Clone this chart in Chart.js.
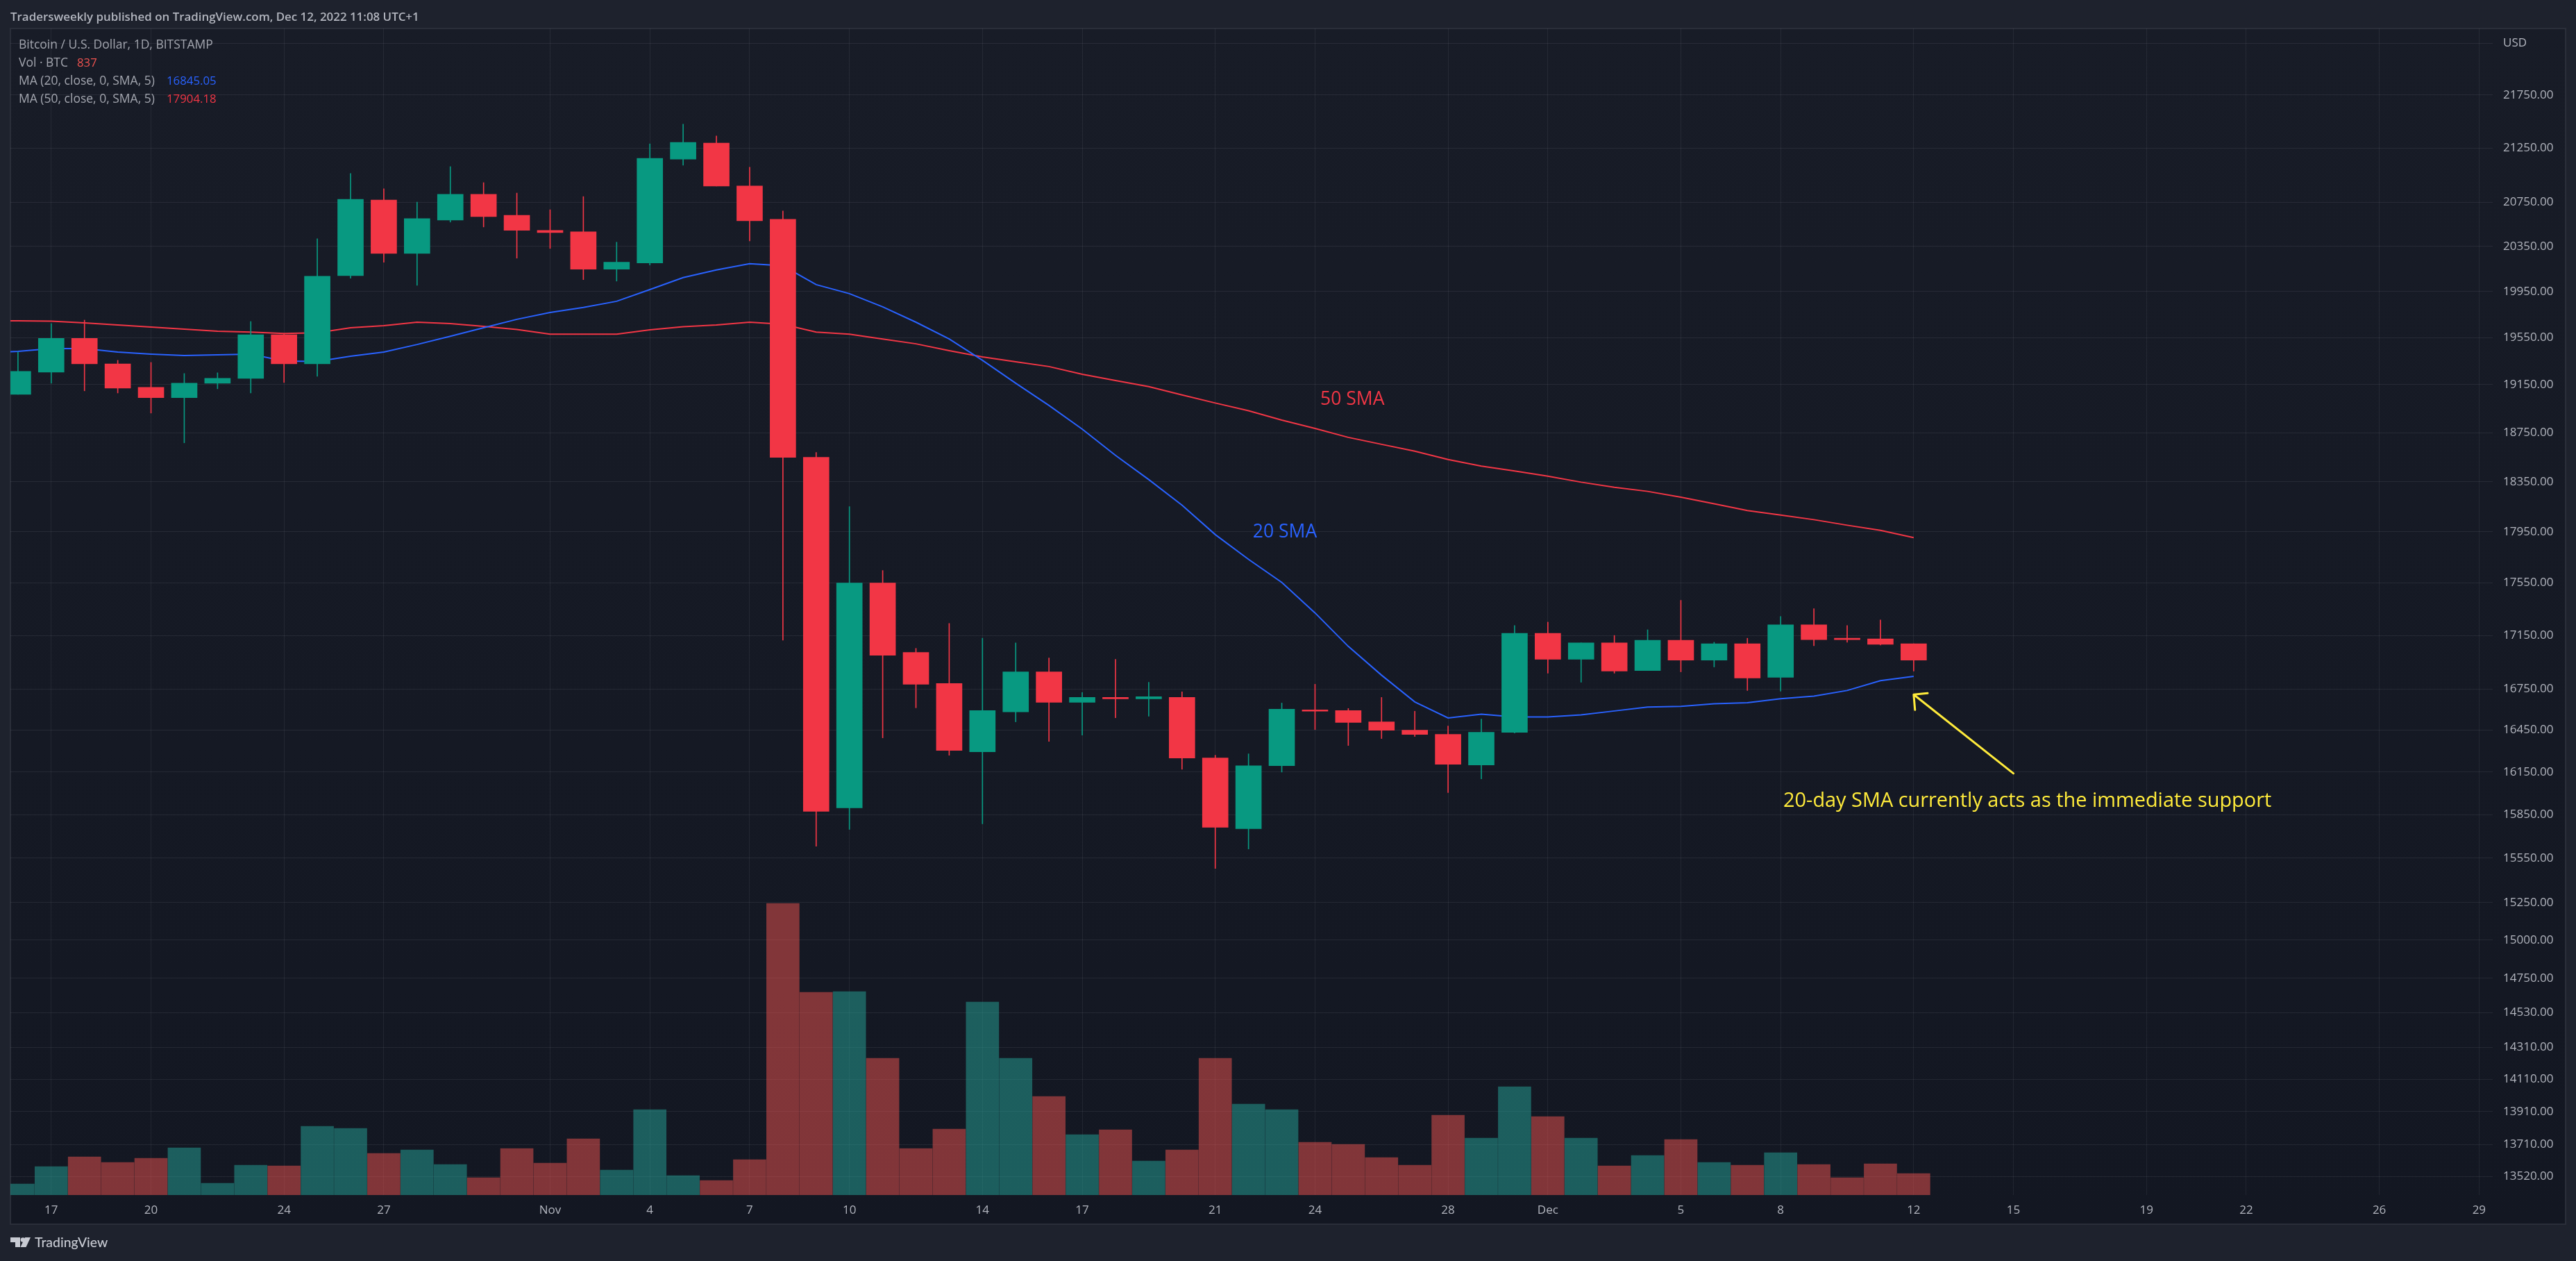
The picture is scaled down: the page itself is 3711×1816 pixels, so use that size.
<!DOCTYPE html>
<html><head><meta charset="utf-8">
<style>html,body{margin:0;padding:0;background:#1e222d;overflow:hidden}canvas{display:block}</style>
<script src="https://cdn.jsdelivr.net/npm/chart.js@4"></script>
</head><body><canvas id="c" width="3711" height="1816"></canvas>
<script>
// Day offsets: day 0 = 17 Oct 2022; candles start at day -1 (16 Oct) and end at day 56 (12 Dec)
const firstDay = -1;
const open  = [19069,19256,19544,19326,19127,19040,19162,19203,19574,19326,20091,20769,20288,20588,20821,20631,20494,20481,20147,20202,21147,21296,20898,20594,18547,15898,17550,17022,16791,16295,16583,16878,16653,16689,16679,16689,16250,15753,16195,16598,16593,16511,16450,16420,16200,16435,17166,16971,17094,16888,17114,16965,17088,16837,17230,17129,17124,17088];
const close = [19262,19544,19326,19121,19040,19162,19203,19574,19326,20085,20776,20288,20600,20821,20619,20494,20475,20147,20209,21154,21303,20898,20581,18547,15874,17550,17001,16786,16305,16593,16878,16653,16689,16679,16694,16250,15763,16195,16603,16588,16506,16450,16420,16205,16435,17166,16971,17094,16883,17114,16965,17088,16832,17230,17119,17119,17083,16965];
const high  = [19427,19671,19701,19356,19338,19244,19250,19689,19586,20419,21013,20872,20750,21077,20929,20833,20681,20801,20388,21289,21474,21362,21071,20669,18587,18150,17647,17053,17241,17129,17094,16981,16725,16971,16801,16730,16270,16280,16648,16786,16608,16689,16588,16480,16531,17225,17251,17094,17150,17193,17417,17099,17129,17294,17353,17225,17267,17088];
const low   = [19069,19162,19098,19080,18912,18666,19115,19080,19168,19220,20067,20209,20005,20569,20525,20245,20332,20055,20042,20184,21090,20898,20400,17114,15632,15748,16395,16613,16270,15787,16511,16370,16415,16541,16552,16170,15480,15613,16150,16455,16340,16390,16405,16005,16102,16430,16868,16801,16868,16888,16878,16914,16740,16735,17073,17099,17078,16883];
const volume = [432,1107,1485,1269,1431,1836,459,1161,1134,2673,2592,1620,1755,1188,675,1809,1242,2187,972,3321,756,567,1377,11340,7884,7911,5319,1809,2565,7506,5319,3834,2349,2538,1323,1755,5319,3537,3321,2052,1971,1458,1161,3105,2214,4212,3051,2214,1134,1539,2160,1269,1161,1647,1188,675,1215,837];
const maFirstDay = -2;
const ma20 = [19421,19432,19456,19456,19427,19409,19397,19403,19409,19350,19347,19391,19427,19491,19562,19635,19708,19768,19811,19865,19968,20073,20141,20196,20177,20011,19932,19817,19683,19538,19356,19162,18976,18779,18564,18367,18161,17928,17734,17555,17321,17068,16853,16656,16539,16567,16546,16546,16562,16590,16618,16623,16643,16650,16679,16699,16740,16812,16845];
const ma50 = [19695,19695,19692,19677,19659,19641,19623,19605,19598,19586,19592,19635,19653,19683,19671,19647,19620,19580,19580,19580,19617,19644,19659,19683,19665,19598,19580,19538,19497,19438,19385,19344,19303,19238,19185,19133,19063,18996,18932,18854,18785,18711,18654,18598,18530,18476,18436,18395,18346,18305,18272,18225,18172,18118,18083,18046,18002,17961,17904];
const xTickDays   = [0,3,7,10,15,18,21,24,28,31,35,38,42,45,49,52,56,59,63,66,70,73];
const xTickLabels = ['17','20','24','27','Nov','4','7','10','14','17','21','24','28','Dec','5','8','12','15','19','22','26','29'];
const yTickValues = [22250,21750,21250,20750,20350,19950,19550,19150,18750,18350,17950,17550,17150,16750,16450,16150,15850,15550,15250,15000,14750,14530,14310,14110,13910,13710,13520];
const arrowDays   = [56.42,56,56.04,56,59];
const arrowPrices = [16720,16710,16598,16710,16140];
const noteDays    = [38.16,36.13,52.08];
const notePrices  = [18982,17907,15903];
const noteTexts   = ['50 SMA','20 SMA','20-day SMA currently acts as the immediate support'];

const UP='#089981', DOWN='#F23645', UPV='rgba(38,166,154,0.5)', DOWNV='rgba(239,83,80,0.5)';
const BLUE='#2962FF', YEL='#FFEB3B', TXT='#B2B5BE';
const FONT='"Open Sans"';
const isUp = i => close[i] >= open[i];
const candleX = i => firstDay + i;

const backdrop = {
  id:'backdrop',
  beforeDraw(ch){
    const c=ch.ctx; c.save();
    c.fillStyle='#1e222d'; c.fillRect(0,0,ch.width,ch.height);
    const g=c.createLinearGradient(0,41,0,1763); g.addColorStop(0,'#181c27'); g.addColorStop(1,'#131722');
    c.fillStyle=g; c.fillRect(15,41,3681,1722);
    c.strokeStyle='#2a2e39'; c.lineWidth=2; c.strokeRect(15,41,3681,1722);
    c.restore();
  },
  afterDraw(ch){
    const c=ch.ctx, xs=ch.scales.x, ys=ch.scales.y; c.save();
    c.textBaseline='alphabetic'; c.textAlign='left';
    c.font='600 16.9px '+FONT; c.fillStyle='#B2B5BE';
    c.fillText('Tradersweekly published on TradingView.com, Dec 12, 2022 11:08 UTC+1',15,30);
    c.font='17.5px '+FONT; c.fillStyle='#a3a6af';
    c.fillText('Bitcoin / U.S. Dollar, 1D, BITSTAMP',27,70);
    c.fillText('Vol · BTC',27,96);
    c.fillText('MA (20, close, 0, SMA, 5)',27,122);
    c.fillText('MA (50, close, 0, SMA, 5)',27,148);
    c.font='16.8px '+FONT;
    c.fillStyle='#EF5350'; c.fillText('837',111,96);
    c.fillStyle=BLUE; c.fillText('16845.05',240,122);
    c.fillStyle=DOWN; c.fillText('17904.18',240,148);
    const noteStyle=[DOWN,BLUE,YEL], noteSize=[26.5,26.5,28.9];
    noteTexts.forEach((t,i)=>{c.font=noteSize[i]+'px '+FONT;c.fillStyle=noteStyle[i];c.fillText(t,xs.getPixelForValue(noteDays[i]),ys.getPixelForValue(notePrices[i]));});
    // TradingView logo mark and wordmark
    c.fillStyle='#c8cbd3';
    c.beginPath();c.moveTo(15,1782);c.lineTo(29,1782);c.lineTo(29,1796);c.lineTo(22,1796);c.lineTo(22,1789);c.lineTo(15,1789);c.closePath();c.fill();
    c.beginPath();c.arc(33,1785.5,3.3,0,Math.PI*2);c.fill();
    c.beginPath();c.moveTo(36,1782);c.lineTo(44,1782);c.lineTo(37.5,1796);c.lineTo(29.5,1796);c.closePath();c.fill();
    c.font='500 19.4px Lato';c.fillText('TradingView',50,1796);
    c.restore();
  }
};

new Chart(document.getElementById('c'),{
  type:'bar',
  plugins:[backdrop],
  data:{datasets:[
    {type:'line',label:'Arrow',order:1,yAxisID:'y',data:arrowDays.map((d,i)=>({x:d,y:arrowPrices[i]})),borderColor:YEL,borderWidth:3,pointRadius:0,tension:0,borderCapStyle:'round',borderJoinStyle:'round'},
    {label:'Body',order:2,yAxisID:'y',grouped:false,barThickness:37,borderWidth:0,
      data:open.map((o,i)=>({x:candleX(i),y:[o,close[i]]})),backgroundColor:open.map((o,i)=>isUp(i)?UP:DOWN)},
    {label:'Wick',order:3,yAxisID:'y',grouped:false,barThickness:1,borderWidth:0,
      data:low.map((l,i)=>({x:candleX(i),y:[l,high[i]]})),backgroundColor:low.map((l,i)=>isUp(i)?UP:DOWN)},
    {type:'line',label:'MA 20',order:4,yAxisID:'y',data:ma20.map((v,i)=>({x:maFirstDay+i,y:v})),borderColor:BLUE,borderWidth:2,pointRadius:0,tension:0},
    {type:'line',label:'MA 50',order:4,yAxisID:'y',data:ma50.map((v,i)=>({x:maFirstDay+i,y:v})),borderColor:DOWN,borderWidth:2,pointRadius:0,tension:0},
    {label:'Volume',order:5,yAxisID:'v',grouped:false,barThickness:47,borderWidth:0,
      data:volume.map((v,i)=>({x:candleX(i),y:v})),backgroundColor:volume.map((v,i)=>isUp(i)?UPV:DOWNV)}
  ]},
  options:{
    responsive:false,animation:false,devicePixelRatio:1,
    layout:{padding:{left:15,top:41,right:15,bottom:53}},
    plugins:{legend:{display:false},tooltip:{enabled:false},title:{display:false}},
    scales:{
      x:{type:'linear',position:'bottom',offset:false,min:-1.2273,max:73.41,
        border:{display:false},
        grid:{offset:false,color:'rgba(240,243,250,0.065)',lineWidth:1,drawTicks:false},
        afterBuildTicks:s=>{s.ticks=xTickDays.map(v=>({value:v}));},
        afterFit:s=>{s.height=42;},
        ticks:{autoSkip:false,maxRotation:0,padding:12,color:TXT,font:{family:FONT,size:17},
          callback:v=>{const k=xTickDays.indexOf(v);return k<0?'':xTickLabels[k];}}},
      y:{type:'logarithmic',position:'right',min:13409,max:22397,
        border:{display:false},
        grid:{color:'rgba(240,243,250,0.075)',lineWidth:1,drawTicks:false},
        afterBuildTicks:s=>{s.ticks=yTickValues.map(v=>({value:v}));},
        afterFit:s=>{s.width=105;},
        ticks:{autoSkip:false,padding:15,color:TXT,font:{family:FONT,size:17},
          callback:v=>v===yTickValues[0]?'USD':v.toFixed(2)}},
      v:{type:'linear',display:false,min:0,max:45360,grid:{display:false}}
    }
  }
});
</script></body></html>
